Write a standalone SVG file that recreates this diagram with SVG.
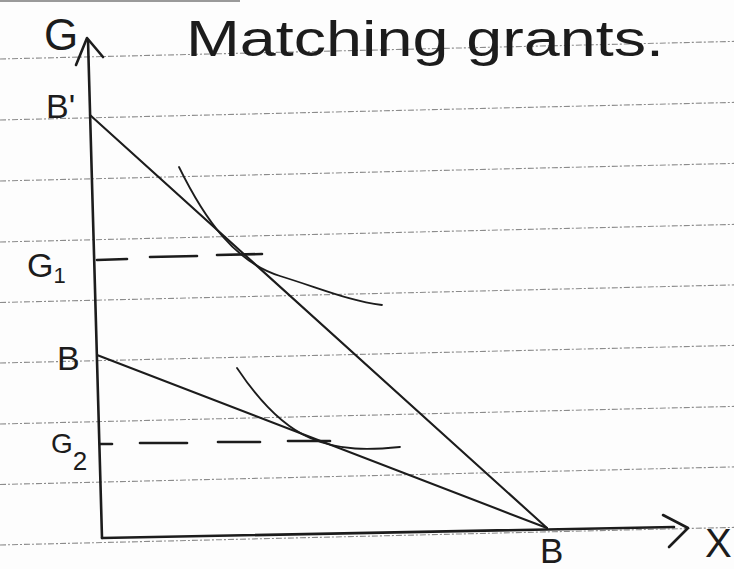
<svg xmlns="http://www.w3.org/2000/svg" width="734" height="569" viewBox="0 0 734 569">
<style>
.rule{stroke:#8c8c8c;stroke-width:1.1;stroke-dasharray:6 2 2 2;fill:none}
.ink{stroke:#1c1c1c;fill:none;stroke-linecap:round;stroke-linejoin:round}
.axis{stroke-width:2.6}
.budget{stroke-width:2.1}
.ic{stroke-width:1.8}
.dash{stroke-width:2.6}
.lbl{font-family:"Liberation Sans","DejaVu Sans",sans-serif;fill:#1c1c1c}
</style>
<rect width="734" height="569" fill="#fdfdfd"/>
<g id="paper">
<line x1="0" y1="1" x2="240" y2="1" stroke="#9a9a9a" stroke-width="2"/>
<line class="rule" x1="0" y1="59" x2="734" y2="41.4"/>
<line class="rule" x1="0" y1="120" x2="734" y2="102.4"/>
<line class="rule" x1="0" y1="181" x2="734" y2="163.4"/>
<line class="rule" x1="0" y1="242" x2="734" y2="224.4"/>
<line class="rule" x1="0" y1="302.5" x2="734" y2="284.9"/>
<line class="rule" x1="0" y1="363" x2="734" y2="345.4"/>
<line class="rule" x1="0" y1="424" x2="734" y2="406.4"/>
<line class="rule" x1="0" y1="484.5" x2="734" y2="466.9"/>
<line class="rule" x1="0" y1="545" x2="734" y2="527.4"/>
</g>
<g id="title">
<text class="lbl" x="186" y="56" font-size="50" textLength="478" lengthAdjust="spacingAndGlyphs">Matching grants.</text>
</g>
<g id="connectors">
<g id="axes">
<line class="ink axis" x1="88" y1="40" x2="102" y2="538"/>
<polyline class="ink axis" points="76,65 87,38 103,57"/>
<line class="ink axis" x1="102" y1="538" x2="674" y2="527"/>
<polyline class="ink axis" points="663,515 688,528 669,547"/>
</g>
<g id="budget-lines">
<line class="ink budget" x1="90" y1="115" x2="547" y2="528"/>
<line class="ink budget" x1="97" y1="355" x2="547" y2="528"/>
</g>
<g id="indifference-curves">
<path class="ink ic" d="M179,167 C205,220 235,262 280,276 S350,301 382,305"/>
<path class="ink ic" d="M237,368 C255,395 280,425 310,438 S370,450 400,447"/>
</g>
<g id="dashed">
<line class="ink dash" x1="97" y1="260" x2="127" y2="259"/>
<line class="ink dash" x1="150" y1="257" x2="197" y2="256"/>
<line class="ink dash" x1="217" y1="255" x2="262" y2="254"/>
<line class="ink dash" x1="100" y1="444" x2="112" y2="444"/>
<line class="ink dash" x1="140" y1="443" x2="187" y2="443"/>
<line class="ink dash" x1="218" y1="442" x2="260" y2="442"/>
<line class="ink dash" x1="288" y1="441" x2="330" y2="441"/>
</g>
</g>
<g id="label-G"><text class="lbl" x="44" y="50" font-size="44">G</text></g>
<g id="label-Bprime"><text class="lbl" x="46" y="118" font-size="34">B'</text></g>
<g id="label-G1"><text class="lbl" x="27" y="277" font-size="34">G<tspan font-size="22" dy="6">1</tspan></text></g>
<g id="label-B-left"><text class="lbl" x="57" y="370" font-size="34">B</text></g>
<g id="label-G2"><text class="lbl" x="51" y="453" font-size="28">G<tspan font-size="26" dy="17">2</tspan></text></g>
<g id="label-B-bottom"><text class="lbl" x="540" y="563" font-size="35">B</text></g>
<g id="label-X"><text class="lbl" x="705" y="557" font-size="40">X</text></g>
</svg>
